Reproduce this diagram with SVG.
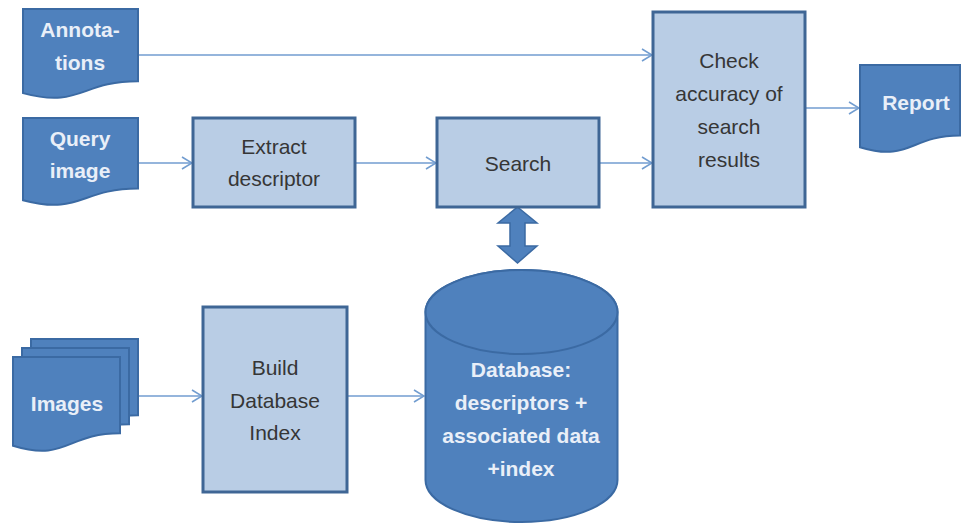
<svg xmlns="http://www.w3.org/2000/svg" width="964" height="524" viewBox="0 0 964 524">
  <defs>
    <style>
      .doc { fill: #4f81bd; stroke: #3b6aa3; stroke-width: 2; }
      .proc { fill: #b9cde5; stroke: #3f6695; stroke-width: 3; }
      .db { fill: #4f81bd; stroke: #3b6aa3; stroke-width: 2; }
      .lt { font-family: "Liberation Sans", Arial, sans-serif; font-size: 21px; font-weight: bold; fill: #e9eff8; text-anchor: middle; }
      .dk { font-family: "Liberation Sans", Arial, sans-serif; font-size: 21px; fill: #363636; text-anchor: middle; }
      .conn { fill: none; stroke: #729dd0; stroke-width: 1.6; marker-end: url(#open); }
    </style>
    <marker id="open" viewBox="0 0 12 14" refX="11" refY="7" markerWidth="12" markerHeight="14" markerUnits="userSpaceOnUse" orient="auto">
      <path d="M1,1 L11,7 L1,13" fill="none" stroke="#729dd0" stroke-width="1.6"/>
    </marker>
  </defs>

  <!-- connectors -->
  <g id="connectors">
    <line class="conn" x1="138" y1="55" x2="652" y2="55"/>
    <line class="conn" x1="138" y1="163" x2="192" y2="163"/>
    <line class="conn" x1="355" y1="163" x2="436" y2="163"/>
    <line class="conn" x1="599" y1="163" x2="652" y2="163"/>
    <line class="conn" x1="805" y1="108" x2="859" y2="108"/>
    <line class="conn" x1="138" y1="396" x2="202" y2="396"/>
    <line class="conn" x1="347" y1="396" x2="424" y2="396"/>
    <!-- two-way block arrow between Search and the database -->
    <polygon points="517.5,207 537,223 525,223 525,246 537,246 517.5,263 498,246 510,246 510,223 498,223" fill="#4f81bd" stroke="#3b6aa3" stroke-width="1.5"/>
  </g>

  <g id="annotations">
    <path class="doc" d="M23,9 H138 V81.2 C80.5,81.2 80.5,108.6 23,93.1 Z"/>
    <text class="lt" x="80" y="37">Annota-</text>
    <text class="lt" x="80" y="70">tions</text>
  </g>

  <g id="query-image">
    <path class="doc" d="M23,118 H138 V188.6 C80.5,188.6 80.5,215.4 23,200.2 Z"/>
    <text class="lt" x="80" y="146">Query</text>
    <text class="lt" x="80" y="178">image</text>
  </g>

  <g id="extract-descriptor">
    <rect class="proc" x="193" y="118" width="162" height="89"/>
    <text class="dk" x="274" y="154">Extract</text>
    <text class="dk" x="274" y="186">descriptor</text>
  </g>

  <g id="search">
    <rect class="proc" x="437" y="118" width="162" height="89"/>
    <text class="dk" x="518" y="171">Search</text>
  </g>

  <g id="check-accuracy">
    <rect class="proc" x="653" y="12" width="152" height="195"/>
    <text class="dk" x="729" y="68">Check</text>
    <text class="dk" x="729" y="101">accuracy of</text>
    <text class="dk" x="729" y="134">search</text>
    <text class="dk" x="729" y="167">results</text>
  </g>

  <g id="report">
    <path class="doc" d="M860,65 H960 V135.6 C910,135.6 910,162.4 860,147.2 Z"/>
    <text class="lt" x="916" y="110">Report</text>
  </g>

  <g id="images">
    <path class="doc" d="M31,339 H138 V415.2 C84.5,415.2 84.5,444.2 31,427.7 Z"/>
    <path class="doc" d="M22,348 H129 V424.2 C75.5,424.2 75.5,453.2 22,436.7 Z"/>
    <path class="doc" d="M13,357 H120 V433.2 C66.5,433.2 66.5,462.2 13,445.7 Z"/>
    <text class="lt" x="67" y="411">Images</text>
  </g>

  <g id="build-index">
    <rect class="proc" x="203" y="307" width="144" height="185"/>
    <text class="dk" x="275" y="375">Build</text>
    <text class="dk" x="275" y="408">Database</text>
    <text class="dk" x="275" y="440">Index</text>
  </g>

  <g id="database">
    <path class="db" d="M425.5,312 A96,42 0 0 1 617.5,312 V480 A96,42 0 0 1 425.5,480 Z"/>
    <ellipse class="db" cx="521.5" cy="312" rx="96" ry="42"/>
    <text class="lt" x="521" y="377">Database:</text>
    <text class="lt" x="521" y="410">descriptors +</text>
    <text class="lt" x="521" y="443">associated data</text>
    <text class="lt" x="521" y="476">+index</text>
  </g>
</svg>
